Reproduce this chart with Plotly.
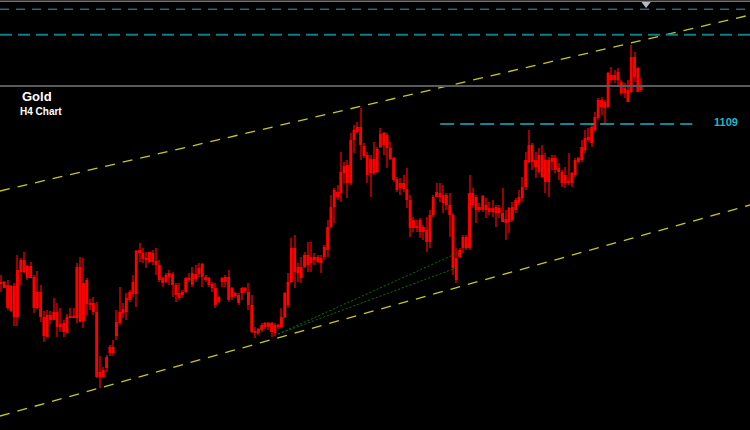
import numpy as np
import plotly.graph_objects as go

# ==========================================
# DATA  (Gold, H4 candles)
# ==========================================

opens = [
    1069.25, 1069.5, 1068.75, 1068.5, 1068.5, 1060.75, 1072, 1075, 1073.5, 1070.5,
    1070.75, 1067, 1067, 1060.75, 1055.75, 1060, 1060, 1062, 1059, 1059.25,
    1056.75, 1060.5, 1061, 1060.5, 1073.25, 1069.25, 1064, 1064.25, 1064.25, 1062,
    1045.75, 1045.75, 1048, 1051.75, 1053.25, 1056, 1059.25, 1061.75, 1062, 1065,
    1066.5, 1066.5, 1076.75, 1076.75, 1075.5, 1074.5, 1076.75, 1074.75, 1073.75, 1070.5,
    1069.5, 1070.75, 1071.5, 1068.75, 1066.75, 1066.25, 1067, 1070.5, 1068.75, 1070.25,
    1071.5, 1070.75, 1070.75, 1070.5, 1069, 1068, 1064.5, 1069.5, 1069.5, 1070.75,
    1068, 1066.75, 1066.25, 1066.75, 1068, 1067, 1063.75, 1057, 1056.75, 1057.5,
    1058.25, 1059.25, 1059.25, 1058.75, 1058.25, 1058.25, 1060.75, 1063.75, 1069.5, 1078,
    1073.25, 1073.25, 1073.25, 1076.25, 1074.25, 1075.75, 1075.75, 1075.5, 1075.75, 1077.5,
    1083.25, 1088.25, 1092, 1091.75, 1096.75, 1098.75, 1094.25, 1105, 1107, 1108.25,
    1103.5, 1101.25, 1100.25, 1096.75, 1097, 1103.25, 1103.75, 1106.25, 1103, 1100.5,
    1095.25, 1094.25, 1094.25, 1092.75, 1090, 1083, 1083.5, 1082, 1083.25, 1082.5,
    1079.5, 1086.25, 1090.75, 1091.75, 1091.25, 1091.25, 1088.75, 1086.25, 1075.5, 1075.75,
    1078, 1080.75, 1078, 1091.75, 1090.75, 1088.25, 1087.5, 1088.75, 1088, 1087,
    1088.25, 1086.75, 1086.75, 1085.25, 1084.5, 1085, 1087.5, 1089.25, 1090.5, 1093.25,
    1099.5, 1103.75, 1100, 1097, 1101.25, 1100, 1094.5, 1099.5, 1100.5, 1098,
    1097, 1096.25, 1094.5, 1094.25, 1096.25, 1099.5, 1100, 1102.5, 1105, 1104.25,
    1107.5, 1110.5, 1115, 1114.5, 1113.25, 1121.25, 1120, 1120, 1119.5, 1118,
    1117.5, 1117, 1125.75, 1123, 1117.5,
]

highs = [
    1071.25, 1069.75, 1070, 1068.75, 1069.25, 1076.25, 1075.5, 1077, 1073.75, 1074.5,
    1071.25, 1072.25, 1068.75, 1062.25, 1062.5, 1062.25, 1065.5, 1064.25, 1063, 1060,
    1061.5, 1063, 1063, 1074.25, 1075.75, 1075.5, 1070.5, 1065.25, 1065.75, 1064.5,
    1051, 1048.25, 1051.25, 1053.75, 1055, 1062.5, 1068.25, 1064.25, 1066.75, 1067.5,
    1071.25, 1077.5, 1079.25, 1078, 1077, 1077, 1077.5, 1078, 1075, 1070.75,
    1071.75, 1072.5, 1072, 1069.25, 1069.25, 1067.5, 1070.75, 1071.75, 1073.25, 1073.75,
    1074.25, 1074.25, 1071.25, 1070.75, 1069.5, 1069.25, 1066, 1070.75, 1071.25, 1072.5,
    1068.25, 1067, 1066.75, 1068.25, 1068.25, 1069.25, 1066.25, 1058.25, 1058, 1059.25,
    1059.5, 1059.5, 1059.5, 1059.25, 1059, 1063, 1067, 1071.75, 1080.5, 1081.25,
    1074.25, 1075.75, 1077, 1079.5, 1079.5, 1076.75, 1076.25, 1076.25, 1078.75, 1085,
    1091.25, 1093, 1093.75, 1102, 1099.5, 1100, 1106.75, 1108.75, 1109.5, 1113,
    1104.25, 1102, 1101.25, 1104.5, 1103.25, 1108, 1107, 1106.75, 1104.5, 1100.75,
    1095.75, 1095.5, 1096.25, 1098, 1091.25, 1085.75, 1085, 1085.5, 1083.75, 1085.75,
    1087.5, 1091.25, 1094.25, 1094.25, 1093.75, 1091.75, 1091.75, 1086.75, 1078, 1078,
    1081.25, 1081.25, 1096.25, 1093, 1091.25, 1089.25, 1091.25, 1090.5, 1089.5, 1090,
    1088.75, 1088.75, 1093, 1087.5, 1088.25, 1089.5, 1090.5, 1092.5, 1095.75, 1102,
    1107.5, 1104.25, 1102, 1103, 1103.75, 1101.75, 1100.75, 1101.25, 1101.25, 1099.25,
    1097.5, 1098.25, 1101.75, 1097, 1100.5, 1100.75, 1105, 1107.5, 1108, 1109.25,
    1112, 1115.5, 1115.75, 1115, 1122, 1123.25, 1122.5, 1123, 1120, 1119.25,
    1120, 1128.75, 1127, 1123.25, 1120.5,
]

lows = [
    1067, 1068, 1062.5, 1062, 1058.5, 1058.5, 1068.75, 1071.75, 1070, 1070.5,
    1061.75, 1062.75, 1059.5, 1054.5, 1055.75, 1059, 1060, 1055.75, 1057, 1055.75,
    1056.75, 1060.5, 1060.5, 1059.25, 1059.5, 1058, 1061.25, 1062.5, 1061.25, 1045.5,
    1043, 1045.5, 1047, 1051, 1051, 1055, 1058.75, 1060.5, 1060, 1064.5,
    1065.75, 1063.25, 1074.5, 1074.25, 1073, 1074.25, 1073.75, 1071.25, 1069.5, 1068.25,
    1069.25, 1068.75, 1065.75, 1064.5, 1065, 1065.5, 1066.75, 1069.5, 1068.25, 1069.5,
    1070.75, 1068.25, 1069.5, 1068.25, 1067, 1063, 1064.25, 1068.25, 1068.25, 1064.5,
    1065, 1065.5, 1063.75, 1065, 1066.75, 1062.5, 1056.75, 1055.5, 1056.25, 1057,
    1057.75, 1057.5, 1055.75, 1056, 1057.75, 1058, 1060.5, 1063, 1069.25, 1068,
    1069.5, 1069.25, 1073, 1072, 1072, 1073.75, 1074.25, 1071.75, 1075, 1075.75,
    1083, 1084.25, 1090, 1089.5, 1094.25, 1090.5, 1093.75, 1101.75, 1106.75, 1100,
    1100.5, 1094.25, 1090.75, 1096.25, 1096.75, 1103, 1101.25, 1098, 1100, 1094.5,
    1092, 1091.25, 1092, 1088, 1080.75, 1082, 1082, 1080.5, 1080, 1077,
    1078, 1085.75, 1090.75, 1089.5, 1086.75, 1087.5, 1080.75, 1071.25, 1069.25, 1075.5,
    1076.75, 1077.5, 1077.5, 1088, 1084.25, 1087, 1087, 1085.5, 1086.25, 1085.75,
    1083.25, 1085.5, 1084.5, 1080, 1081.75, 1084.5, 1086.75, 1088.75, 1089.5, 1092.5,
    1099.25, 1097.5, 1095.5, 1096.75, 1095.5, 1091.75, 1090.75, 1097.5, 1096.75, 1095,
    1093.25, 1093, 1093.75, 1093.25, 1095.75, 1099.25, 1099.5, 1101.75, 1104.5, 1103.25,
    1107, 1110, 1111.25, 1109.25, 1113, 1119.25, 1119.25, 1118.25, 1116.25, 1115.5,
    1114.5, 1116.75, 1119.5, 1117, 1117,
]

closes = [
    1069, 1068, 1063, 1062.25, 1060.75, 1072.5, 1075, 1072, 1070.5, 1073.5,
    1063, 1063, 1060.75, 1056, 1061.25, 1061.25, 1062, 1058.25, 1058.25, 1057,
    1060.75, 1061, 1060.5, 1073.25, 1059.5, 1059.75, 1070, 1063.75, 1062, 1045.75,
    1047, 1047.5, 1050.75, 1053.25, 1051.75, 1059.5, 1062, 1062.75, 1065.5, 1067,
    1069.5, 1077.25, 1077.5, 1075.25, 1075, 1077, 1074.5, 1073.75, 1070, 1069.25,
    1071.25, 1071.75, 1068.75, 1066.25, 1065.5, 1067, 1070.5, 1070, 1071.75, 1071.5,
    1073, 1074, 1070, 1068.75, 1068, 1063.75, 1065.75, 1070.5, 1070.75, 1065,
    1065.75, 1066, 1064.25, 1068, 1067.25, 1063.75, 1057, 1056.75, 1057.75, 1058.75,
    1059.25, 1058.25, 1057, 1056.75, 1058.75, 1060.75, 1066.75, 1069.5, 1078, 1072,
    1071.75, 1070.5, 1076.25, 1073.75, 1075.75, 1075, 1074.5, 1074.25, 1078.25, 1083.25,
    1088.25, 1092.5, 1090.75, 1097, 1098.5, 1094.25, 1105, 1107.5, 1108.25, 1103.75,
    1101, 1096.25, 1096.75, 1100.25, 1102.75, 1106.5, 1106.75, 1103, 1100.25, 1095,
    1092.5, 1093, 1092.75, 1090, 1083, 1085, 1083, 1085, 1082, 1079.5,
    1086.25, 1090.75, 1092, 1090.75, 1089.25, 1088.75, 1086.25, 1073, 1070, 1077.5,
    1080.75, 1078, 1091.75, 1088.75, 1087.5, 1087.5, 1091, 1087.5, 1087, 1088,
    1086.75, 1088, 1084.5, 1084.25, 1088, 1088.25, 1090, 1090.75, 1093.25, 1100,
    1103.75, 1099.5, 1098.25, 1101.25, 1095.75, 1094.5, 1100, 1100.5, 1097.5, 1097,
    1094.25, 1094.25, 1094.25, 1096.75, 1100, 1100.5, 1103.25, 1105.5, 1105.75, 1108.25,
    1110.75, 1115, 1113.25, 1113, 1121.75, 1120, 1121.25, 1122, 1116.75, 1116.75,
    1114.5, 1125.75, 1120.75, 1117, 1118.75,
]

# trend lines drawn on the chart: (bar index, price)
channel_upper = [(-0.3, 1092.25), (227.0, 1136.25)]
channel_lower = [(-0.3, 1036.0), (227.0, 1088.75)]
fan_upper = [(84.0, 1056.5), (139.7, 1077.25)]
fan_lower = [(84.0, 1056.5), (137.9, 1073.0)]

level_1109 = 1109
level_1109_span = (133.1, 209.5)
top_levels = [1139.7, 1137.7, 1131.3, 1118.5]

X_RANGE = [-0.3, 227.0]
Y_RANGE = [1032.5, 1140.0]

# ==========================================
# CANDLES  (wicks + bodies, both as bars)
# ==========================================

o = np.array(opens)
h = np.array(highs)
l = np.array(lows)
c = np.array(closes)
idx = np.arange(len(o))

body_base = np.minimum(o, c)
body_h = np.maximum(np.abs(c - o), 0.3)

fig = go.Figure()

# wicks
fig.add_trace(go.Bar(
    x=idx, y=h - l, base=l, width=0.3,
    marker=dict(color="#9a0000", line=dict(width=0)),
    hoverinfo="skip"
))

# bodies
fig.add_trace(go.Bar(
    x=idx, y=body_h, base=body_base, width=0.88,
    marker=dict(color="#ff0000", line=dict(width=0))
))

# ==========================================
# LINES / LEVELS
# ==========================================

def seg(p, color, width, dash):
    fig.add_shape(type="line", x0=p[0][0], y0=p[0][1], x1=p[1][0], y1=p[1][1],
                  xref="x", yref="y", line=dict(color=color, width=width, dash=dash))

seg(channel_upper, "#c8c81e", 1.3, "10px,8px")
seg(channel_lower, "#c8c81e", 1.3, "10px,8px")
seg(fan_upper, "#0b6e0b", 1, "2px,2px")
seg(fan_lower, "#0b6e0b", 1, "2px,2px")

seg([(X_RANGE[0], top_levels[0]), (X_RANGE[1], top_levels[0])], "#a8a8a8", 1, "solid")
seg([(X_RANGE[0], top_levels[1]), (X_RANGE[1], top_levels[1])], "#2aa6b0", 1, "9px,7px")
seg([(X_RANGE[0], top_levels[2]), (X_RANGE[1], top_levels[2])], "#0e7f86", 2, "12px,6px")
seg([(X_RANGE[0], top_levels[3]), (X_RANGE[1], top_levels[3])], "#5a5a5a", 2, "solid")

seg([(level_1109_span[0], level_1109), (level_1109_span[1], level_1109)],
    "#1ab3c4", 1.3, "14px,6px")

fig.add_trace(go.Scatter(
    x=[195.5], y=[1139.0], mode="markers",
    marker=dict(symbol="triangle-down", size=8, color="#b8b8c0"),
    hoverinfo="skip"
))

fig.add_annotation(x=219.8, y=1109.6, xref="x", yref="y", text="<b>1109</b>",
                   showarrow=False, font=dict(family="Liberation Sans", size=11, color="#1fb8c8"))

fig.add_annotation(x=37 / 750, y=1 - 96 / 430, xref="paper", yref="paper", text="<b>Gold</b>",
                   xanchor="center", yanchor="middle",
                   showarrow=False, font=dict(family="Liberation Sans", size=13, color="white"))
fig.add_annotation(x=41 / 750, y=1 - 111 / 430, xref="paper", yref="paper", text="<b>H4 Chart</b>",
                   xanchor="center", yanchor="middle",
                   showarrow=False, font=dict(family="Liberation Sans", size=10, color="white"))

fig.update_layout(
    width=750, height=430,
    margin=dict(l=0, r=0, t=0, b=0),
    paper_bgcolor="black", plot_bgcolor="black",
    showlegend=False,
    barmode="overlay",
    xaxis=dict(visible=False, range=X_RANGE, fixedrange=True),
    yaxis=dict(visible=False, range=Y_RANGE, fixedrange=True),
)

fig.write_html(
    "out.html",
    config={"displayModeBar": False},
    post_script="document.body.style.margin='0';document.body.style.background='black';"
)
